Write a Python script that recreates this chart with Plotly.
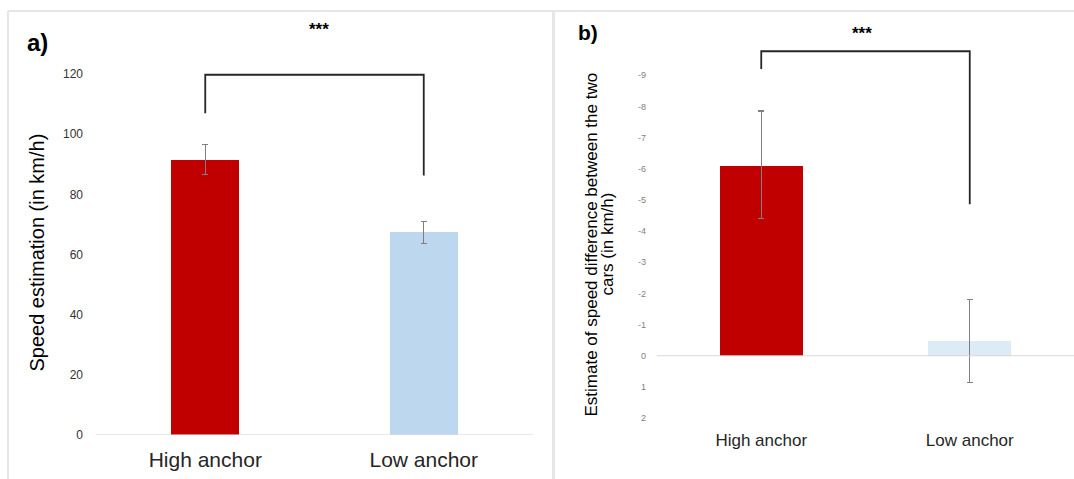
import plotly.graph_objects as go

categories = ["High anchor", "Low anchor"]

# Panel a: speed estimation (km/h)
speed_mean = [91.5, 67.3]
speed_err_plus = [5.0, 3.8]
speed_err_minus = [4.8, 3.7]

# Panel b: estimate of speed difference (km/h), axis reversed
diff_mean = [-6.1, -0.48]
diff_err_plus = [1.7, 1.35]
diff_err_minus = [1.75, 1.33]

a_ticks = [0, 20, 40, 60, 80, 100, 120]
b_ticks = [-9, -8, -7, -6, -5, -4, -3, -2, -1, 0, 1, 2]
b_ticktext = ["-9", "-8", "-7", "-6", "-5", "-4", "-3", "-2", "-1", "0", "1", "2"]

# significance brackets (data units)
a_bracket = dict(left_low=107, top=119.8, right_low=86.3)
b_bracket = dict(left_low=-9.2, top=-9.77, right_low=-4.86)

RED = "#C00000"
BLUE_A = "#BDD7EE"
BLUE_B = "#DDEBF7"
ERR = "#7f7f7f"
FONT = "Liberation Sans, Arial, sans-serif"

fig = go.Figure()

fig.add_trace(go.Bar(
    x=[0, 1], y=speed_mean, width=0.31,
    marker=dict(color=[RED, BLUE_A], line=dict(width=0)),
    error_y=dict(type="data", symmetric=False, array=speed_err_plus,
                 arrayminus=speed_err_minus, color=ERR, thickness=1.2, width=3),
    xaxis="x", yaxis="y", showlegend=False,
))
fig.add_trace(go.Bar(
    x=[0, 1], y=diff_mean, width=0.40,
    marker=dict(color=[RED, BLUE_B], line=dict(width=0)),
    error_y=dict(type="data", symmetric=False, array=diff_err_plus,
                 arrayminus=diff_err_minus, color=ERR, thickness=1.2, width=3),
    xaxis="x2", yaxis="y2", showlegend=False,
))

W, H = 1074, 487
REF_H = 479

def px_x(p):
    return p / W

def px_y(p):
    return 1 - p / REF_H

# panel b axis: 0 at y=355px, 31.1 px per unit
b_top, b_bot = -10.5, 2.3
fig.update_layout(
    width=W, height=H,
    margin=dict(l=0, r=0, t=0, b=0),
    paper_bgcolor="white", plot_bgcolor="white",
    font=dict(family=FONT, color="#262626"),
    bargap=0,
    xaxis=dict(domain=[px_x(96), px_x(533)], range=[-0.5, 1.5],
               tickvals=[0, 1], ticktext=categories, showgrid=False,
               zeroline=False, showline=False, ticks="",
               tickfont=dict(size=21, color="#262626"), ticklabelstandoff=10),
    yaxis=dict(domain=[px_y(434), px_y(44)], range=[0, 130],
               tickvals=a_ticks, showgrid=False, zeroline=False,
               showline=False, ticks="", tickfont=dict(size=12, color="#333333"),
               ticklabelstandoff=12),
    xaxis2=dict(domain=[px_x(657), 1.0], range=[-0.5, 1.5], anchor="y2",
                tickvals=[0, 1], ticktext=categories, showgrid=False,
                zeroline=False, showline=False, ticks="",
                tickfont=dict(size=17, color="#262626"), ticklabelstandoff=1),
    yaxis2=dict(domain=[px_y(355 + b_bot * 31.1), px_y(355 + b_top * 31.1)],
                range=[b_bot, b_top],
                anchor="x2", tickvals=b_ticks, ticktext=b_ticktext,
                showgrid=False, zeroline=False, showline=False, ticks="",
                tickfont=dict(size=9, color="#7f7f7f"), ticklabelstandoff=10),
)

shapes = []
# panel frames
frame = dict(color="#e6e6e6", width=2)
shapes.append(dict(type="line", xref="paper", yref="paper", x0=px_x(8), x1=px_x(8), y0=0, y1=px_y(11), line=frame))
shapes.append(dict(type="line", xref="paper", yref="paper", x0=px_x(8), x1=1, y0=px_y(11), y1=px_y(11), line=frame))
shapes.append(dict(type="line", xref="paper", yref="paper", x0=px_x(553.5), x1=px_x(553.5), y0=0, y1=px_y(11), line=dict(color="#e6e6e6", width=3)))
# axis base lines
shapes.append(dict(type="line", xref="x", yref="y", x0=-0.5, x1=1.5, y0=0, y1=0, line=dict(color="#d9d9d9", width=1)))
shapes.append(dict(type="line", xref="x2", yref="y2", x0=-0.5, x1=1.5, y0=0, y1=0, line=dict(color="#d9d9d9", width=1)))
# brackets
br = dict(color="#262626", width=1.8)
shapes.append(dict(type="path", xref="x", yref="y",
                   path=f"M 0,{a_bracket['left_low']} L 0,{a_bracket['top']} L 1,{a_bracket['top']} L 1,{a_bracket['right_low']}",
                   line=br))
shapes.append(dict(type="path", xref="x2", yref="y2",
                   path=f"M 0,{b_bracket['left_low']} L 0,{b_bracket['top']} L 1,{b_bracket['top']} L 1,{b_bracket['right_low']}",
                   line=br))
fig.update_layout(shapes=shapes)

ann = []
ann.append(dict(text="<b>a)</b>", x=px_x(25), y=px_y(42), xref="paper", yref="paper",
                xanchor="left", yanchor="middle", showarrow=False, font=dict(size=24, color="#000000")))
ann.append(dict(text="<b>b)</b>", x=px_x(576), y=px_y(32), xref="paper", yref="paper",
                xanchor="left", yanchor="middle", showarrow=False, font=dict(size=21, color="#000000")))
ann.append(dict(text="<b>***</b>", x=px_x(319), y=px_y(29), xref="paper", yref="paper",
                xanchor="center", yanchor="middle", showarrow=False, font=dict(size=17, color="#000000")))
ann.append(dict(text="<b>***</b>", x=px_x(862), y=px_y(33), xref="paper", yref="paper",
                xanchor="center", yanchor="middle", showarrow=False, font=dict(size=17, color="#000000")))
ann.append(dict(text="Speed estimation (in km/h)", x=px_x(37), y=px_y(252), xref="paper", yref="paper",
                xanchor="center", yanchor="middle", textangle=-90, showarrow=False,
                font=dict(size=20, color="#000000")))
ann.append(dict(text="Estimate of speed difference between the two",
                x=px_x(592), y=px_y(244), xref="paper", yref="paper",
                xanchor="center", yanchor="middle", textangle=-90, showarrow=False,
                font=dict(size=17, color="#000000")))
ann.append(dict(text="cars (in km/h)",
                x=px_x(608), y=px_y(244), xref="paper", yref="paper",
                xanchor="center", yanchor="middle", textangle=-90, showarrow=False,
                font=dict(size=17, color="#000000")))
fig.update_layout(annotations=ann)

fig.write_html("out.html", config={"displayModeBar": False},
               post_script="document.body.style.margin='0';document.body.style.padding='0';")
